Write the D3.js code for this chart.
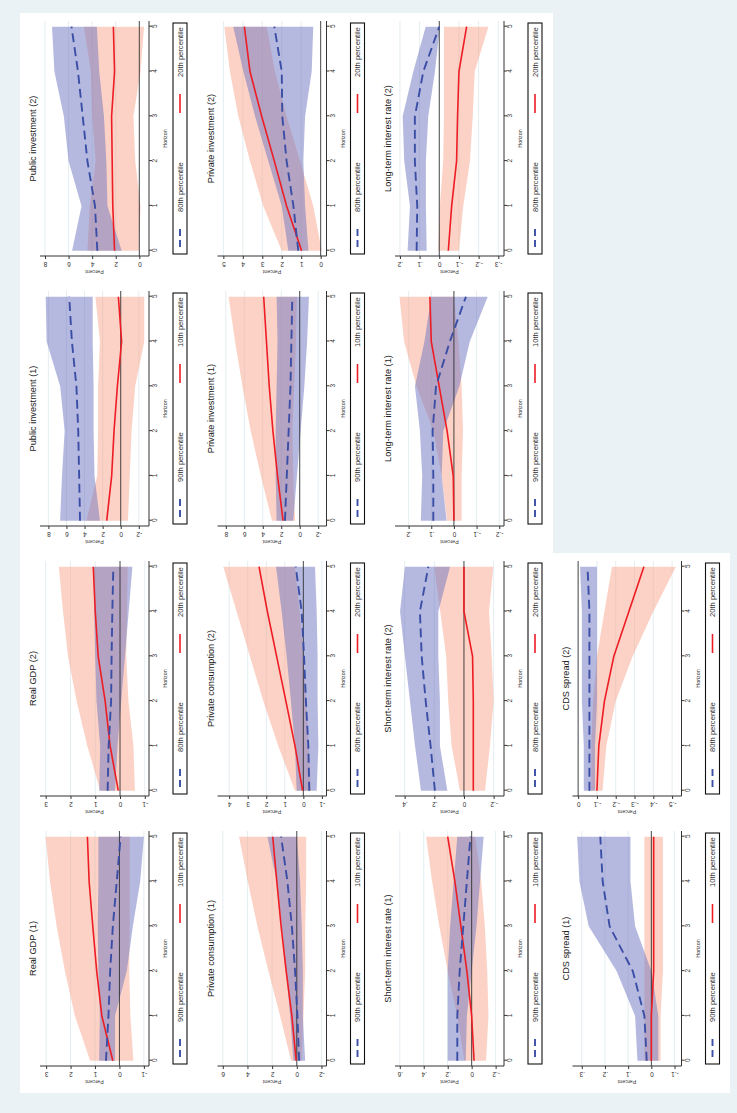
<!DOCTYPE html>
<html>
<head>
<meta charset="utf-8">
<script src="https://cdn.jsdelivr.net/npm/d3@7"></script>
<style>
  html, body { margin: 0; padding: 0; background: #eaf2f6; }
  svg { display: block; font-family: "Liberation Sans", Arial, sans-serif; }
</style>
</head>
<body>
<svg id="chart" width="737" height="1113"></svg>
<script>
// Impulse responses, high vs low percentile, horizon 0..5.
// The figure is drawn landscape and turned a quarter turn, as in the source.
const horizon = [0, 1, 2, 3, 4, 5];

const panelTitles = [
  'Real GDP (1)', 'Real GDP (2)', 'Public investment (1)', 'Public investment (2)',
  'Private consumption (1)', 'Private consumption (2)', 'Private investment (1)', 'Private investment (2)',
  'Short-term interest rate (1)', 'Short-term interest rate (2)', 'Long-term interest rate (1)', 'Long-term interest rate (2)',
  'CDS spread (1)', 'CDS spread (2)'
];

// legend text for the "(1)" and "(2)" panels
const legendHigh = ['90th percentile', '80th percentile'];
const legendLow = ['10th percentile', '20th percentile'];

const percentTicks = [
  [-1, 0, 1, 2, 3], [-1, 0, 1, 2, 3], [-2, 0, 2, 4, 6, 8], [0, 2, 4, 6, 8],
  [-2, 0, 2, 4, 6], [-1, 0, 1, 2, 3, 4], [-2, 0, 2, 4, 6, 8], [0, 1, 2, 3, 4, 5],
  [-0.2, 0, 0.2, 0.4, 0.6], [-0.2, 0, 0.2, 0.4], [-0.2, -0.1, 0, 0.1, 0.2], [-0.3, -0.2, -0.1, 0, 0.1, 0.2],
  [-0.1, 0, 0.1, 0.2, 0.3], [-0.5, -0.4, -0.3, -0.2, -0.1, 0]
];

const percentRange = [
  [-1.21, 3.25], [-1.17, 3.23], [-3.13, 8.93], [-0.82, 8.42],
  [-2.41, 6.43], [-1.25, 4.63], [-2.9, 8.9], [-0.30, 5.30],
  [-0.27, 0.64], [-0.27, 0.465], [-0.221, 0.26], [-0.329, 0.225],
  [-0.13, 0.34], [-0.55, 0.03]
];

// high percentile (blue, dashed) – point estimate and band
const highMid = [
  [0.55, 0.45, 0.38, 0.27, 0.11, -0.05],
  [0.5, 0.46, 0.36, 0.34, 0.31, 0.27],
  [4.5, 4.6, 4.7, 4.9, 5.4, 5.7],
  [3.56, 3.76, 4.4, 4.8, 5.2, 5.75],
  [-0.19, -0.05, 0.14, 0.4, 0.76, 1.27],
  [-0.32, -0.27, -0.14, -0.04, 0.09, 0.41],
  [1.6, 1.4, 1.2, 1.0, 0.9, 0.8],
  [1.15, 1.4, 1.75, 1.97, 2.0, 2.38],
  [0.12, 0.12, 0.1, 0.07, 0.04, 0.01],
  [0.196, 0.225, 0.258, 0.285, 0.297, 0.24],
  [0.091, 0.091, 0.094, 0.079, 0.018, -0.053],
  [0.115, 0.112, 0.124, 0.124, 0.081, 0.0],
  [0.02, 0.03, 0.08, 0.18, 0.21, 0.22],
  [-0.06, -0.06, -0.06, -0.06, -0.06, -0.05]
];
const highLo = [
  [0.18, 0.18, -0.3, -0.55, -0.85, -1.0],
  [0.2, 0.1, -0.05, -0.2, -0.35, -0.5],
  [2.3, 2.9, 3.0, 3.0, 3.1, 3.1],
  [1.5, 2.7, 2.8, 3.0, 3.4, 3.6],
  [-0.68, -0.49, -0.49, -0.4, -0.27, 0.0],
  [-0.72, -0.81, -0.77, -0.77, -0.72, -0.63],
  [0.7, 0.3, -0.1, -0.5, -0.8, -1.0],
  [0.63, 0.8, 0.89, 0.8, 0.46, 0.38],
  [0.05, 0.04, 0.0, -0.04, -0.07, -0.1],
  [0.112, 0.162, 0.162, 0.173, 0.173, 0.094],
  [0.032, 0.054, 0.047, -0.024, -0.07, -0.149],
  [0.064, 0.068, 0.068, 0.056, 0.022, -0.003],
  [-0.03, -0.03, 0.0, 0.07, 0.09, 0.09],
  [-0.09, -0.09, -0.1, -0.1, -0.1, -0.1]
];
const highHi = [
  [0.83, 0.8, 0.86, 0.89, 0.86, 0.86],
  [0.84, 0.8, 0.95, 1.0, 1.04, 1.05],
  [6.7, 6.5, 6.2, 6.7, 8.2, 8.3],
  [5.7, 4.9, 6.0, 6.4, 7.2, 7.4],
  [0.27, 0.54, 0.86, 1.22, 1.62, 2.38],
  [0.36, 0.45, 0.67, 0.9, 1.17, 1.47],
  [2.5, 2.6, 2.6, 2.5, 2.4, 2.5],
  [1.66, 2.0, 2.69, 3.37, 3.97, 4.49],
  [0.2, 0.2, 0.2, 0.18, 0.15, 0.12],
  [0.29, 0.33, 0.364, 0.398, 0.431, 0.398],
  [0.146, 0.14, 0.15, 0.172, 0.13, 0.1],
  [0.161, 0.149, 0.178, 0.186, 0.132, 0.069],
  [0.06, 0.07, 0.15, 0.27, 0.31, 0.32],
  [-0.03, -0.03, -0.02, -0.02, -0.02, -0.01]
];

// low percentile (red, solid)
const lowMid = [
  [0.27, 0.72, 0.93, 1.09, 1.24, 1.31],
  [0.07, 0.4, 0.6, 0.88, 1.0, 1.08],
  [1.55, 1.0, 0.74, 0.37, -0.1, 0.26],
  [2.1, 2.25, 2.3, 2.35, 2.1, 2.2],
  [0.05, 0.4, 0.86, 1.27, 1.62, 1.95],
  [0.04, 0.45, 0.94, 1.44, 1.94, 2.39],
  [1.8, 2.4, 2.9, 3.3, 3.6, 3.9],
  [0.98, 1.75, 2.38, 3.03, 3.63, 3.92],
  [-0.02, 0.0, 0.04, 0.09, 0.14, 0.2],
  [-0.063, -0.063, -0.063, -0.058, 0.0, 0.0],
  [0.0, 0.003, 0.03, 0.065, 0.1, 0.106],
  [-0.046, -0.063, -0.088, -0.093, -0.1, -0.139],
  [0.0, 0.0, -0.01, -0.01, -0.01, -0.01],
  [-0.1, -0.11, -0.14, -0.19, -0.27, -0.35]
];
const lowLo = [
  [-0.57, -0.45, -0.4, -0.42, -0.42, -0.42],
  [-0.6, -0.54, -0.34, -0.25, -0.28, -0.31],
  [-0.8, -1.0, -1.2, -1.6, -2.6, -2.6],
  [0.05, -0.1, 0.35, 0.5, -0.1, -0.4],
  [-0.4, -0.54, -0.68, -0.68, -0.76, -0.76],
  [-0.41, -0.3, -0.15, 0.0, 0.2, 0.45],
  [0.5, 0.7, 0.8, 0.6, 0.4, 0.3],
  [-0.05, 0.38, 1.06, 1.75, 2.35, 2.77],
  [-0.12, -0.14, -0.13, -0.11, -0.08, -0.03],
  [-0.142, -0.175, -0.2, -0.187, -0.169, -0.198],
  [-0.034, -0.034, -0.04, -0.034, -0.02, 0.0],
  [-0.1, -0.122, -0.156, -0.17, -0.18, -0.25],
  [-0.04, -0.04, -0.05, -0.05, -0.05, -0.05],
  [-0.13, -0.15, -0.2, -0.29, -0.4, -0.52]
];
const lowHi = [
  [1.2, 1.82, 2.23, 2.57, 2.84, 3.02],
  [0.8, 1.32, 1.75, 2.1, 2.3, 2.47],
  [3.8, 2.6, 2.5, 2.5, 2.3, 2.8],
  [4.4, 4.2, 3.7, 4.0, 4.1, 4.7],
  [0.46, 1.35, 2.3, 3.19, 3.97, 4.68],
  [0.45, 1.35, 2.16, 2.88, 3.6, 4.32],
  [3.0, 4.2, 5.3, 6.2, 7.0, 7.7],
  [2.0, 2.95, 3.63, 4.23, 4.66, 4.95],
  [0.06, 0.12, 0.2, 0.27, 0.33, 0.38],
  [0.027, 0.083, 0.106, 0.12, 0.16, 0.2],
  [0.03, 0.054, 0.09, 0.165, 0.22, 0.24],
  [0.005, -0.003, -0.02, -0.024, -0.024, -0.024],
  [0.03, 0.03, 0.03, 0.03, 0.03, 0.03],
  [-0.07, -0.07, -0.08, -0.1, -0.14, -0.18]
];

// ---- layout (landscape coordinates) ----
const W = 1113;
const colStep = 270;
const rowStep = 177.5;
const plotTop0 = 40;
const plotH = 109;
const xFirst = 52.3;      // horizon 0 of first column
const xSpan = 224;        // horizon 0 -> 5

const blueLine = '#3b4ea6';
const redLine = '#ee1c24';
const blueFill = '#6e73bf';
const redFill = '#f8a58c';
const gridColor = '#dde9ee';
const inkColor = '#333';

const fmt = v => Number.isInteger(v) ? String(v) : String(v).replace(/^(-?)0\./, '$1.');

const svg = d3.select('#chart');
svg.append('rect').attr('width', 737).attr('height', 1113).attr('fill', '#eaf2f6');

const fig = svg.append('g').attr('transform', `translate(0,${W}) rotate(-90)`);

// white figure area (bottom-right cell of the landscape grid is empty)
fig.append('rect').attr('x', 20).attr('y', 20).attr('width', 1080).attr('height', 533).attr('fill', '#fff');
fig.append('rect').attr('x', 20).attr('y', 552).attr('width', 540).attr('height', 178).attr('fill', '#fff');

panelTitles.forEach((title, i) => {
  const r = Math.floor(i / 4);
  const c = i % 4;
  const set = c % 2;  // 0 -> "(1)", 1 -> "(2)"
  const top = plotTop0 + rowStep * r;
  const bottom = top + plotH;

  const x = d3.scaleLinear().domain([0, 5]).range([xFirst + colStep * c, xFirst + colStep * c + xSpan]);
  const y = d3.scaleLinear().domain(percentRange[i]).range([bottom, top]);
  const left = x(0) - 5.3;
  const right = x(5) + 5.7;

  const g = fig.append('g').attr('class', 'panel');

  // grid
  g.selectAll('line.grid').data(percentTicks[i]).enter().append('line')
    .attr('class', 'grid')
    .attr('x1', left).attr('x2', right)
    .attr('y1', d => y(d)).attr('y2', d => y(d))
    .attr('stroke', gridColor).attr('stroke-width', 0.8);

  const rows = horizon.map((h, k) => ({
    h,
    hm: highMid[i][k], hl: highLo[i][k], hh: highHi[i][k],
    lm: lowMid[i][k], ll: lowLo[i][k], lh: lowHi[i][k]
  }));

  // bands
  g.append('path').datum(rows)
    .attr('d', d3.area().x(d => x(d.h)).y0(d => y(d.ll)).y1(d => y(d.lh)))
    .attr('fill', redFill).attr('fill-opacity', 0.5);
  g.append('path').datum(rows)
    .attr('d', d3.area().x(d => x(d.h)).y0(d => y(d.hl)).y1(d => y(d.hh)))
    .attr('fill', blueFill).attr('fill-opacity', 0.5);

  // zero line
  g.append('line')
    .attr('x1', left).attr('x2', right)
    .attr('y1', y(0)).attr('y2', y(0))
    .attr('stroke', '#222').attr('stroke-width', 0.8);

  // point estimates
  g.append('path').datum(rows)
    .attr('d', d3.line().x(d => x(d.h)).y(d => y(d.lm)))
    .attr('fill', 'none').attr('stroke', redLine).attr('stroke-width', 1.6);
  g.append('path').datum(rows)
    .attr('d', d3.line().x(d => x(d.h)).y(d => y(d.hm)))
    .attr('fill', 'none').attr('stroke', blueLine).attr('stroke-width', 1.9)
    .attr('stroke-dasharray', '9,5');

  // horizon axis
  const ax = g.append('g').attr('transform', `translate(0,${bottom})`)
    .call(d3.axisBottom(x).tickValues(horizon).tickSize(3).tickFormat(d3.format('d')));
  ax.select('.domain').attr('d', `M${left},0H${right}`).attr('stroke', inkColor);
  ax.selectAll('.tick line').attr('stroke', inkColor);
  ax.selectAll('text').attr('y', 6).attr('dy', '0.35em')
    .attr('font-size', 6.5).attr('fill', inkColor);

  g.append('text')
    .attr('x', (left + right) / 2).attr('y', bottom + 16)
    .attr('text-anchor', 'middle').attr('dominant-baseline', 'central')
    .attr('font-size', 5.3).attr('fill', inkColor)
    .text('Horizon');

  // percent axis
  const ay = g.append('g').attr('transform', `translate(${left},0)`)
    .call(d3.axisLeft(y).tickValues(percentTicks[i]).tickSize(3).tickFormat(fmt));
  ay.select('.domain').attr('d', `M0,${top}V${bottom}`).attr('stroke', inkColor);
  ay.selectAll('.tick line').attr('stroke', inkColor);
  ay.selectAll('text')
    .attr('transform', 'rotate(-90)')
    .attr('x', 0).attr('y', -8.5).attr('dy', 0)
    .attr('text-anchor', 'middle').attr('dominant-baseline', 'central')
    .attr('font-size', 6.5).attr('fill', inkColor);

  g.append('text')
    .attr('transform', `translate(${left - 16},${(top + bottom) / 2}) rotate(-90)`)
    .attr('text-anchor', 'middle').attr('dominant-baseline', 'central')
    .attr('font-size', 5.3).attr('fill', inkColor)
    .text('Percent');

  // title
  g.append('text')
    .attr('x', (left + right) / 2).attr('y', top - 7)
    .attr('text-anchor', 'middle').attr('dominant-baseline', 'central')
    .attr('font-size', 9.2).attr('fill', '#1a1a1a')
    .text(title);

  // legend
  const ly = bottom + 24;
  const lg = g.append('g').attr('transform', `translate(${left + 2},${ly})`);
  lg.append('rect').attr('width', right - left - 4).attr('height', 14)
    .attr('fill', '#fff').attr('stroke', '#111').attr('stroke-width', 1.1);
  lg.append('line').attr('x1', 7).attr('x2', 26).attr('y1', 7).attr('y2', 7)
    .attr('stroke', blueLine).attr('stroke-width', 1.9).attr('stroke-dasharray', '7,4');
  lg.append('text').attr('x', 42).attr('y', 7).attr('dominant-baseline', 'central')
    .attr('font-size', 7.6).attr('fill', inkColor).text(legendHigh[set]);
  lg.append('line').attr('x1', 141).attr('x2', 160).attr('y1', 7).attr('y2', 7)
    .attr('stroke', redLine).attr('stroke-width', 1.6);
  lg.append('text').attr('x', 177).attr('y', 7).attr('dominant-baseline', 'central')
    .attr('font-size', 7.6).attr('fill', inkColor).text(legendLow[set]);
});
</script>
</body>
</html>
